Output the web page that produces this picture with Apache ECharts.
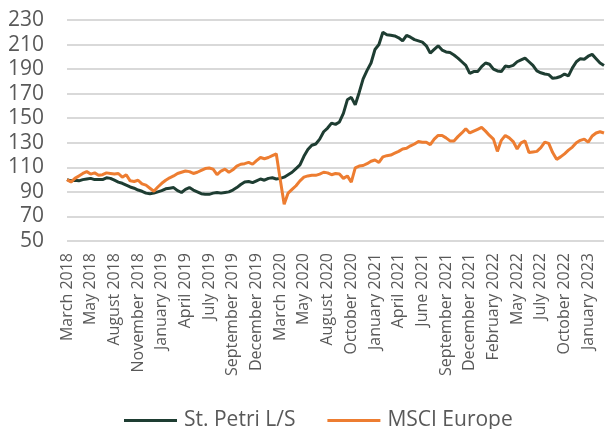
<!DOCTYPE html>
<html>
<head>
<meta charset="utf-8">
<script src="https://cdn.jsdelivr.net/npm/echarts@6/dist/echarts.min.js"></script>
<style>
  html, body { margin: 0; padding: 0; background: #fff; }
  #chart { width: 610px; height: 429px; }
</style>
</head>
<body>
<div id="chart"></div>
<script>
// tick labels, one every 6 points
const ticks = ['March 2018', 'May 2018', 'August 2018', 'November 2018', 'January 2019',
  'April 2019', 'July 2019', 'September 2019', 'December 2019', 'March 2020', 'May 2020',
  'August 2020', 'October 2020', 'January 2021', 'April 2021', 'June 2021', 'September 2021',
  'December 2021', 'February 2022', 'May 2022', 'July 2022', 'October 2022', 'January 2023'];

// St. Petri L/S
const stPetri = [
  100, 99, 99.5, 99, 100, 100.5, 101, 100, 100, 100, 101.5, 101, 99.5, 98, 97, 95.5, 94, 93,
  91.5, 90.5, 89, 88.5, 89, 90, 91, 92.5, 93, 93.5, 91, 89.5, 92, 93.5, 91.5, 90, 88.5, 88,
  88, 89, 89.5, 89, 89.5, 90, 91.5, 93.5, 96, 98, 98.5, 97.5, 99, 100.5, 99.5, 101, 101.5, 100.5,
  101, 102, 104, 106, 109, 112, 119, 124.5, 128, 129, 133, 139, 142, 146, 145, 147, 154, 165,
  167, 161, 171, 182, 189, 195, 206, 210, 220, 218, 217.5, 217, 215.5, 213, 217.5, 216, 214, 213,
  212, 209, 203, 206, 209, 205.5, 204, 203.5, 201.5, 199, 196, 193, 186.5, 188, 188, 192, 195, 194,
  190, 188.5, 188, 192.5, 192, 193, 196, 197.5, 199, 196, 193, 188.5, 187, 186, 185.5, 182.5, 183, 184,
  186, 184.5, 191, 196, 198.5, 198, 200.5, 202, 198.5, 195, 193
];

// MSCI Europe
const msci = [
  100, 98, 101, 103, 105, 106.5, 104.5, 105.5, 103.5, 104, 105.5, 105, 104.5, 105, 102, 104, 99, 98.5,
  99.5, 96.5, 95.5, 93, 90.5, 94, 97, 99.5, 101.5, 103, 105, 106, 107, 106.5, 105, 106, 107.5, 109,
  109.5, 108.5, 104, 107, 108.5, 106, 108, 111, 112.5, 113, 114, 112.5, 115.5, 118, 117, 118, 119.5, 121,
  100, 80, 89, 92, 95, 99, 102, 103, 103.5, 103.5, 104.5, 106, 105.5, 104, 105, 104.5, 101, 103,
  98, 109.5, 111, 111.5, 113, 115, 116, 114, 118.5, 119.5, 120, 121.5, 123, 125, 125.5, 127.5, 129, 131,
  130.5, 130.5, 128.5, 133, 136, 136, 134, 131.5, 131.5, 135, 138, 141.5, 138, 139.5, 141, 142.5, 139.5, 136,
  133, 123, 132, 136, 134, 131, 125, 130, 131.5, 122, 122.5, 123, 126, 130.5, 129.5, 122, 116.5, 118.5,
  121, 124, 126.5, 130, 132, 133, 130.5, 135.5, 138, 139, 138
];

const categories = [];
ticks.forEach((t, k) => {
  categories.push(t);
  if (k < ticks.length - 1) {
    for (let j = 0; j < 5; j++) categories.push('');
  }
});
while (categories.length < stPetri.length) categories.push('');

const textColor = '#595959';
const font = 'Open Sans';

const chart = echarts.init(document.getElementById('chart'));
chart.setOption({
  animation: false,
  grid: { left: 67, right: 6, top: 20, bottom: 188, containLabel: false },
  legend: {
    top: 405,
    left: 119,
    itemWidth: 53,
    itemHeight: 3,
    itemGap: 32,
    icon: 'rect',
    textStyle: { color: textColor, fontFamily: font, fontSize: 21, padding: [0, 0, 0, 2] },
    data: ['St. Petri L/S', 'MSCI Europe']
  },
  xAxis: {
    type: 'category',
    data: categories,
    boundaryGap: false,
    axisLine: { show: false },
    axisTick: { show: false },
    axisLabel: {
      interval: 5,
      rotate: 90,
      margin: 12,
      color: textColor,
      fontFamily: font,
      fontSize: 16
    }
  },
  yAxis: {
    type: 'value',
    min: 50,
    max: 230,
    interval: 20,
    axisLine: { show: false },
    axisTick: { show: false },
    axisLabel: { color: textColor, fontFamily: font, fontSize: 21, margin: 23 },
    splitLine: { lineStyle: { color: '#d9d9d9', width: 2 } }
  },
  series: [
    {
      name: 'St. Petri L/S',
      type: 'line',
      data: stPetri,
      showSymbol: false,
      lineStyle: { color: '#1e3d32', width: 3 },
      itemStyle: { color: '#1e3d32' }
    },
    {
      name: 'MSCI Europe',
      type: 'line',
      data: msci,
      showSymbol: false,
      lineStyle: { color: '#ed7d31', width: 3 },
      itemStyle: { color: '#ed7d31' }
    }
  ]
});
</script>
</body>
</html>
